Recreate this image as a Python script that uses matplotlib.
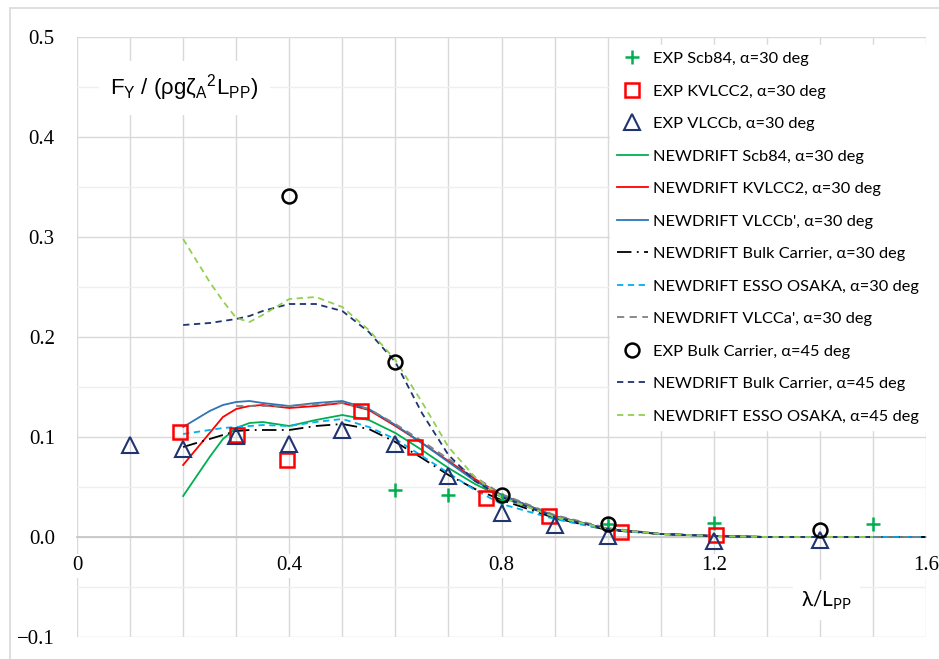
import numpy as np
import matplotlib
matplotlib.use("Agg")
import matplotlib.pyplot as plt
from matplotlib.patches import Rectangle
from matplotlib.ticker import MultipleLocator

plt.rcParams['mathtext.default'] = 'regular'

# experimental points
exp_scb84_x = [0.6, 0.7, 0.8, 1.0, 1.2, 1.5]
exp_scb84_y = [0.047, 0.042, 0.037, 0.013, 0.014, 0.013]
exp_kvlcc2_x = [0.194, 0.301, 0.395, 0.535, 0.637, 0.770, 0.889, 1.026, 1.205]
exp_kvlcc2_y = [0.105, 0.102, 0.077, 0.126, 0.090, 0.039, 0.021, 0.005, 0.002]
exp_vlccb_x = [0.1, 0.2, 0.3, 0.4, 0.5, 0.6, 0.7, 0.8, 0.9, 1.0, 1.2, 1.4]
exp_vlccb_y = [0.092, 0.088, 0.101, 0.093, 0.107, 0.093, 0.061, 0.024, 0.012, 0.001, -0.004, -0.003]
exp_bulk45_x = [0.4, 0.6, 0.8, 1.0, 1.4]
exp_bulk45_y = [0.341, 0.175, 0.042, 0.013, 0.007]

# NEWDRIFT curves
lam = [0.2, 0.25, 0.275, 0.3, 0.325, 0.35, 0.4, 0.45, 0.5, 0.55, 0.6, 0.65, 0.7, 0.75, 0.8, 0.9, 1.0, 1.1, 1.2, 1.3, 1.4, 1.5]
nd_scb84 = [0.041, 0.080, 0.098, 0.109, 0.114, 0.115, 0.111, 0.117, 0.122, 0.117, 0.104, 0.087, 0.069, 0.053, 0.040, 0.020, 0.008, 0.003, 0.001, 0.0, 0.0, 0.0]
nd_kvlcc2 = [0.072, 0.104, 0.120, 0.128, 0.131, 0.132, 0.129, 0.131, 0.134, 0.127, 0.111, 0.094, 0.076, 0.058, 0.042, 0.021, 0.008, 0.003, 0.001, 0.0, 0.0, 0.0]
nd_bulk45 = [0.212, 0.214, 0.216, 0.218, 0.221, 0.226, 0.233, 0.233, 0.226, 0.205, 0.175, 0.124, 0.082, 0.056, 0.040, 0.020, 0.008, 0.003, 0.001, 0.0, 0.0, 0.0]
nd_esso45 = [0.298, 0.255, 0.236, 0.219, 0.215, 0.222, 0.238, 0.240, 0.230, 0.207, 0.177, 0.135, 0.090, 0.060, 0.040, 0.020, 0.008, 0.003, 0.001, 0.0, 0.0, 0.0]

lam_b = [0.2, 0.25, 0.275, 0.3, 0.325, 0.35, 0.4, 0.45, 0.5, 0.55, 0.6, 0.65, 0.7, 0.75, 0.8, 0.9, 1.0, 1.1, 1.2, 1.3, 1.4, 1.5, 1.6]
nd_vlccb = [0.110, 0.126, 0.132, 0.135, 0.136, 0.134, 0.131, 0.134, 0.136, 0.128, 0.112, 0.094, 0.075, 0.056, 0.042, 0.021, 0.008, 0.003, 0.001, 0.0, 0.0, 0.0, 0.0]
nd_bulk30 = [0.090, 0.098, 0.102, 0.106, 0.107, 0.107, 0.107, 0.111, 0.113, 0.108, 0.095, 0.079, 0.062, 0.048, 0.037, 0.019, 0.007, 0.003, 0.001, 0.0, 0.0, 0.0, 0.0]
nd_esso30 = [0.103, 0.107, 0.109, 0.110, 0.111, 0.112, 0.111, 0.115, 0.118, 0.110, 0.098, 0.081, 0.064, 0.047, 0.033, 0.018, 0.007, 0.003, 0.001, 0.0, 0.0, 0.0, 0.0]

lam_a = [0.3, 0.35, 0.4, 0.45, 0.5, 0.55, 0.6, 0.65, 0.7, 0.75, 0.8, 0.9, 1.0, 1.1, 1.2, 1.3, 1.4, 1.5, 1.6]
nd_vlcca = [0.131, 0.131, 0.131, 0.133, 0.134, 0.128, 0.113, 0.096, 0.078, 0.060, 0.043, 0.022, 0.009, 0.003, 0.001, 0.0, 0.0, 0.0, 0.0]

fig = plt.figure(figsize=(9.39, 6.59), dpi=100)
ax = fig.add_axes([77/939, 1 - 637/659, (926-77)/939, (637-37)/659])

lw = 1.3
h_l1, = ax.plot(lam, nd_scb84, color='#00b050', lw=lw, label='NEWDRIFT Scb84, α=30 deg', zorder=3)
h_l2, = ax.plot(lam, nd_kvlcc2, color='#ff0000', lw=lw, label='NEWDRIFT KVLCC2, α=30 deg', zorder=3)
h_l3, = ax.plot(lam_b, nd_vlccb, color='#2e75b6', lw=lw, label="NEWDRIFT VLCCb', α=30 deg", zorder=3)
h_l4, = ax.plot(lam_b, nd_bulk30, color='black', lw=lw, dashes=(8, 3, 1, 3),
                label='NEWDRIFT Bulk Carrier, α=30 deg', zorder=3)
h_l5, = ax.plot(lam_b, nd_esso30, color='#00b0f0', lw=lw, dashes=(3.5, 2.5),
                label='NEWDRIFT ESSO OSAKA, α=30 deg', zorder=3)
h_l6, = ax.plot(lam_a, nd_vlcca, color='#808080', lw=lw, dashes=(4, 3),
                label="NEWDRIFT VLCCa', α=30 deg", zorder=3)
h_l7, = ax.plot(lam, nd_bulk45, color='#1f3470', lw=lw, dashes=(3.5, 2.5),
                label='NEWDRIFT Bulk Carrier, α=45 deg', zorder=3)
h_l8, = ax.plot(lam, nd_esso45, color='#92d050', lw=lw, dashes=(3.5, 2.5),
                label='NEWDRIFT ESSO OSAKA, α=45 deg', zorder=3)

h_p1, = ax.plot(exp_scb84_x, exp_scb84_y, ls='none', marker='+', ms=10, mew=1.8,
                color='#00b050', label='EXP Scb84, α=30 deg', zorder=5)
h_p2, = ax.plot(exp_kvlcc2_x, exp_kvlcc2_y, ls='none', marker='s', ms=10, mew=1.8,
                mfc='none', mec='#ff0000', label='EXP KVLCC2, α=30 deg', zorder=5)
h_p3, = ax.plot(exp_vlccb_x, exp_vlccb_y, ls='none', marker='^', ms=11, mew=1.5,
                mfc='none', mec='#1f3470', label='EXP VLCCb, α=30 deg', zorder=5)
h_p4, = ax.plot(exp_bulk45_x, exp_bulk45_y, ls='none', marker='o', ms=10, mew=1.8,
                mfc='none', mec='black', label='EXP Bulk Carrier, α=45 deg', zorder=5)

ax.set_xlim(0, 1.6)
ax.set_ylim(-0.1, 0.5)
ax.xaxis.set_major_locator(MultipleLocator(0.4))
ax.xaxis.set_minor_locator(MultipleLocator(0.1))
ax.yaxis.set_major_locator(MultipleLocator(0.1))
ax.yaxis.set_minor_locator(MultipleLocator(0.05))
ax.xaxis.set_major_formatter(lambda v, p: '0' if abs(v) < 1e-9 else f'{v:.1f}')
ax.yaxis.set_major_formatter(lambda v, p: f'{v:.1f}'.replace('-', '\u2212'))

ax.grid(True, which='major', axis='both', color='#d9d9d9', lw=1.0, zorder=0)
ax.grid(True, which='minor', axis='x', color='#d9d9d9', lw=1.0, zorder=0)
ax.grid(True, which='minor', axis='y', color='#efefef', lw=1.0, zorder=0)
ax.set_axisbelow(True)
for s in ['top', 'right', 'left']:
    ax.spines[s].set_visible(False)
ax.spines['bottom'].set_position(('data', 0))
ax.spines['bottom'].set_color('#c8c8c8')
ax.spines['bottom'].set_linewidth(1.3)
ax.tick_params(which='both', length=0)
ax.tick_params(axis='y', pad=16, labelsize=15)
ax.tick_params(axis='x', pad=14, labelsize=15)
for lbl in ax.get_xticklabels() + ax.get_yticklabels():
    lbl.set_fontfamily('Liberation Serif')
for lbl in ax.get_xticklabels():
    lbl.set_bbox(dict(facecolor='white', edgecolor='none', pad=2))

ax.text(0.063, 0.449, r'F$_Y$ / (ρgζ$_A$$^2$L$_{PP}$)', fontsize=16,
        family=['Liberation Sans', 'DejaVu Sans'], va='center', ha='left',
        bbox=dict(facecolor='white', edgecolor='none', pad=8), zorder=4)
ax.text(1.413, -0.063, r'λ/L$_{PP}$', fontsize=15,
        family=['Lato', 'DejaVu Sans'], va='center', ha='center',
        bbox=dict(facecolor='white', edgecolor='none', pad=6), zorder=4)

handles = [h_p1, h_p2, h_p3, h_l1, h_l2, h_l3, h_l4, h_l5, h_l6, h_p4, h_l7, h_l8]
leg = ax.legend(handles=handles, loc='upper right', bbox_to_anchor=(925/939, 1 - 45/659),
                bbox_transform=fig.transFigure, borderaxespad=0, frameon=True,
                fancybox=False, edgecolor='white', facecolor='white', framealpha=1,
                prop={'family': ['Lato', 'DejaVu Sans'], 'size': 11.8},
                handlelength=1.9, handletextpad=0.3, labelspacing=1.1, borderpad=0.4)
leg.set_zorder(6)

fig.add_artist(Rectangle((10/939, -0.1), 1.2, 1.1 - 8/659, transform=fig.transFigure,
                         fill=False, ec='#d9d9d9', lw=1.2))

fig.savefig('out.png', dpi=100)
